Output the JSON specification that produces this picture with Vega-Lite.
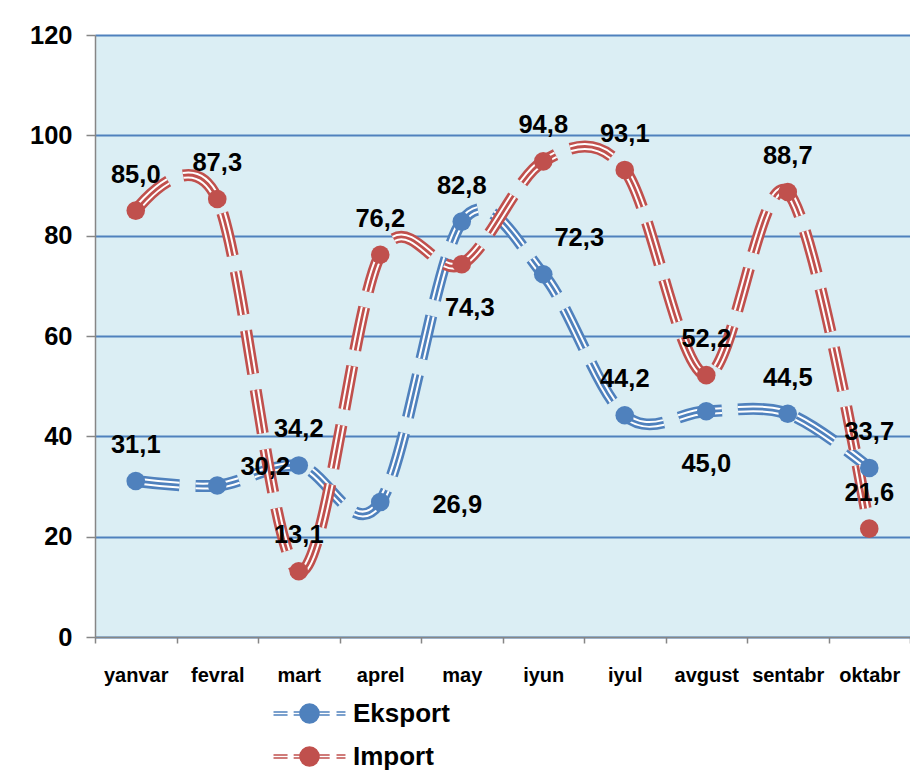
{
  "$schema": "https://vega.github.io/schema/vega-lite/v6.json",
  "width": 815,
  "height": 602,
  "autosize": {"type": "none"},
  "padding": {"left": 95, "top": 35, "right": 0, "bottom": 138},
  "background": "white",
  "config": {
    "locale": {"number": {"decimal": ",", "thousands": " ", "grouping": [3], "currency": ["", ""]}},
    "view": {"fill": "#DBEEF4", "stroke": null},
    "font": "Liberation Sans"
  },
  "data": {
    "values": [
      {"month": "yanvar", "series": "Eksport", "value": 31.1},
      {"month": "fevral", "series": "Eksport", "value": 30.2},
      {"month": "mart", "series": "Eksport", "value": 34.2},
      {"month": "aprel", "series": "Eksport", "value": 26.9},
      {"month": "may", "series": "Eksport", "value": 82.8},
      {"month": "iyun", "series": "Eksport", "value": 72.3},
      {"month": "iyul", "series": "Eksport", "value": 44.2},
      {"month": "avgust", "series": "Eksport", "value": 45.0},
      {"month": "sentabr", "series": "Eksport", "value": 44.5},
      {"month": "oktabr", "series": "Eksport", "value": 33.7},
      {"month": "yanvar", "series": "Import", "value": 85.0},
      {"month": "fevral", "series": "Import", "value": 87.3},
      {"month": "mart", "series": "Import", "value": 13.1},
      {"month": "aprel", "series": "Import", "value": 76.2},
      {"month": "may", "series": "Import", "value": 74.3},
      {"month": "iyun", "series": "Import", "value": 94.8},
      {"month": "iyul", "series": "Import", "value": 93.1},
      {"month": "avgust", "series": "Import", "value": 52.2},
      {"month": "sentabr", "series": "Import", "value": 88.7},
      {"month": "oktabr", "series": "Import", "value": 21.6}
    ]
  },
  "encoding": {
    "x": {
      "field": "month", "type": "nominal",
      "sort": ["yanvar", "fevral", "mart", "aprel", "may", "iyun", "iyul", "avgust", "sentabr", "oktabr"],
      "scale": {"type": "band", "paddingInner": 0, "paddingOuter": 0},
      "bandPosition": 0.5,
      "axis": {
        "title": null, "labelAngle": 0, "labelFontSize": 20, "labelFontWeight": "bold", "labelColor": "black",
        "domainColor": "#868686", "domainWidth": 1.5, "tickColor": "#868686", "tickWidth": 1.5, "tickSize": 6,
        "tickBand": "extent", "labelPadding": 22, "grid": false
      }
    },
    "y": {
      "field": "value", "type": "quantitative",
      "scale": {"domain": [0, 120]},
      "axis": {
        "title": null, "values": [0, 20, 40, 60, 80, 100, 120], "labelFontSize": 25.5, "labelFontWeight": "bold",
        "labelColor": "black", "labelPadding": 14, "tickSize": 9, "tickColor": "#868686", "tickWidth": 1.5,
        "domainColor": "#868686", "domainWidth": 1.5, "grid": true, "gridColor": "#4F81BD", "gridWidth": 1.8
      }
    }
  },
  "layer": [
    {"transform": [{"filter": "datum.series === 'Eksport'"}], "mark": {"type": "line", "interpolate": "cardinal", "tension": 0, "strokeWidth": 12, "strokeDash": [44, 16], "color": "#4F81BD"}},
    {"transform": [{"filter": "datum.series === 'Eksport'"}], "mark": {"type": "line", "interpolate": "cardinal", "tension": 0, "strokeWidth": 6.8, "strokeDash": [44, 16], "color": "#FFFFFF"}},
    {"transform": [{"filter": "datum.series === 'Eksport'"}], "mark": {"type": "line", "interpolate": "cardinal", "tension": 0, "strokeWidth": 2.8, "strokeDash": [44, 16], "color": "#4F81BD"}},
    {"transform": [{"filter": "datum.series === 'Import'"}], "mark": {"type": "line", "interpolate": "cardinal", "tension": 0, "strokeWidth": 12, "strokeDash": [44, 16], "color": "#C0504D"}},
    {"transform": [{"filter": "datum.series === 'Import'"}], "mark": {"type": "line", "interpolate": "cardinal", "tension": 0, "strokeWidth": 6.8, "strokeDash": [44, 16], "color": "#FFFFFF"}},
    {"transform": [{"filter": "datum.series === 'Import'"}], "mark": {"type": "line", "interpolate": "cardinal", "tension": 0, "strokeWidth": 2.8, "strokeDash": [44, 16], "color": "#C0504D"}},
    {
      "mark": {"type": "circle", "size": 346, "opacity": 1},
      "encoding": {
        "color": {
          "field": "series", "type": "nominal",
          "scale": {"domain": ["Eksport", "Import"], "range": ["#4F81BD", "#C0504D"]},
          "legend": {
            "title": null, "orient": "none", "legendX": 192, "legendY": 656, "direction": "vertical",
            "symbolType": "M-1.674,-0.075L-1.021,-0.075M-1.674,0.075L-1.021,0.075M-0.737,-0.075L0.938,-0.075M-0.737,0.075L0.938,0.075M1.256,-0.075L1.674,-0.075M1.256,0.075L1.674,0.075M-0.442,0A0.442,0.442,0,1,1,0.442,0A0.442,0.442,0,1,1,-0.442,0Z",
            "symbolSize": 1849, "symbolStrokeWidth": 1.5, "symbolOpacity": 1,
            "labelFontSize": 26, "labelFontWeight": "bold", "labelColor": "black", "labelOffset": 21,
            "rowPadding": 7, "padding": 0,
            "encode": {"symbols": {"update": {"stroke": {"scale": "color", "field": "value"}, "fill": {"scale": "color", "field": "value"}, "strokeWidth": {"value": 1.5}}}}
          }
        }
      }
    },
    {
      "transform": [{"filter": "!((datum.series === 'Eksport' && (datum.month === 'fevral' || datum.month === 'aprel' || datum.month === 'iyun' || datum.month === 'avgust')) || (datum.series === 'Import' && datum.month === 'may'))"}],
      "mark": {"type": "text", "fontSize": 25.5, "fontWeight": "bold", "color": "black", "baseline": "middle", "align": "center", "dy": -36},
      "encoding": {"text": {"field": "value", "type": "quantitative", "format": ".1f"}}
    },
    {
      "transform": [{"filter": "datum.series === 'Eksport' && datum.month === 'fevral'"}],
      "mark": {"type": "text", "fontSize": 25.5, "fontWeight": "bold", "color": "black", "baseline": "middle", "align": "center", "dx": 48, "dy": -18},
      "encoding": {"text": {"field": "value", "type": "quantitative", "format": ".1f"}}
    },
    {
      "transform": [{"filter": "datum.series === 'Eksport' && datum.month === 'aprel'"}],
      "mark": {"type": "text", "fontSize": 25.5, "fontWeight": "bold", "color": "black", "baseline": "middle", "align": "center", "dx": 77, "dy": 3},
      "encoding": {"text": {"field": "value", "type": "quantitative", "format": ".1f"}}
    },
    {
      "transform": [{"filter": "datum.series === 'Eksport' && datum.month === 'iyun'"}],
      "mark": {"type": "text", "fontSize": 25.5, "fontWeight": "bold", "color": "black", "baseline": "middle", "align": "center", "dx": 36, "dy": -36},
      "encoding": {"text": {"field": "value", "type": "quantitative", "format": ".1f"}}
    },
    {
      "transform": [{"filter": "datum.series === 'Eksport' && datum.month === 'avgust'"}],
      "mark": {"type": "text", "fontSize": 25.5, "fontWeight": "bold", "color": "black", "baseline": "middle", "align": "center", "dy": 53},
      "encoding": {"text": {"field": "value", "type": "quantitative", "format": ".1f"}}
    },
    {
      "transform": [{"filter": "datum.series === 'Import' && datum.month === 'may'"}],
      "mark": {"type": "text", "fontSize": 25.5, "fontWeight": "bold", "color": "black", "baseline": "middle", "align": "center", "dx": 8, "dy": 44},
      "encoding": {"text": {"field": "value", "type": "quantitative", "format": ".1f"}}
    }
  ]
}
